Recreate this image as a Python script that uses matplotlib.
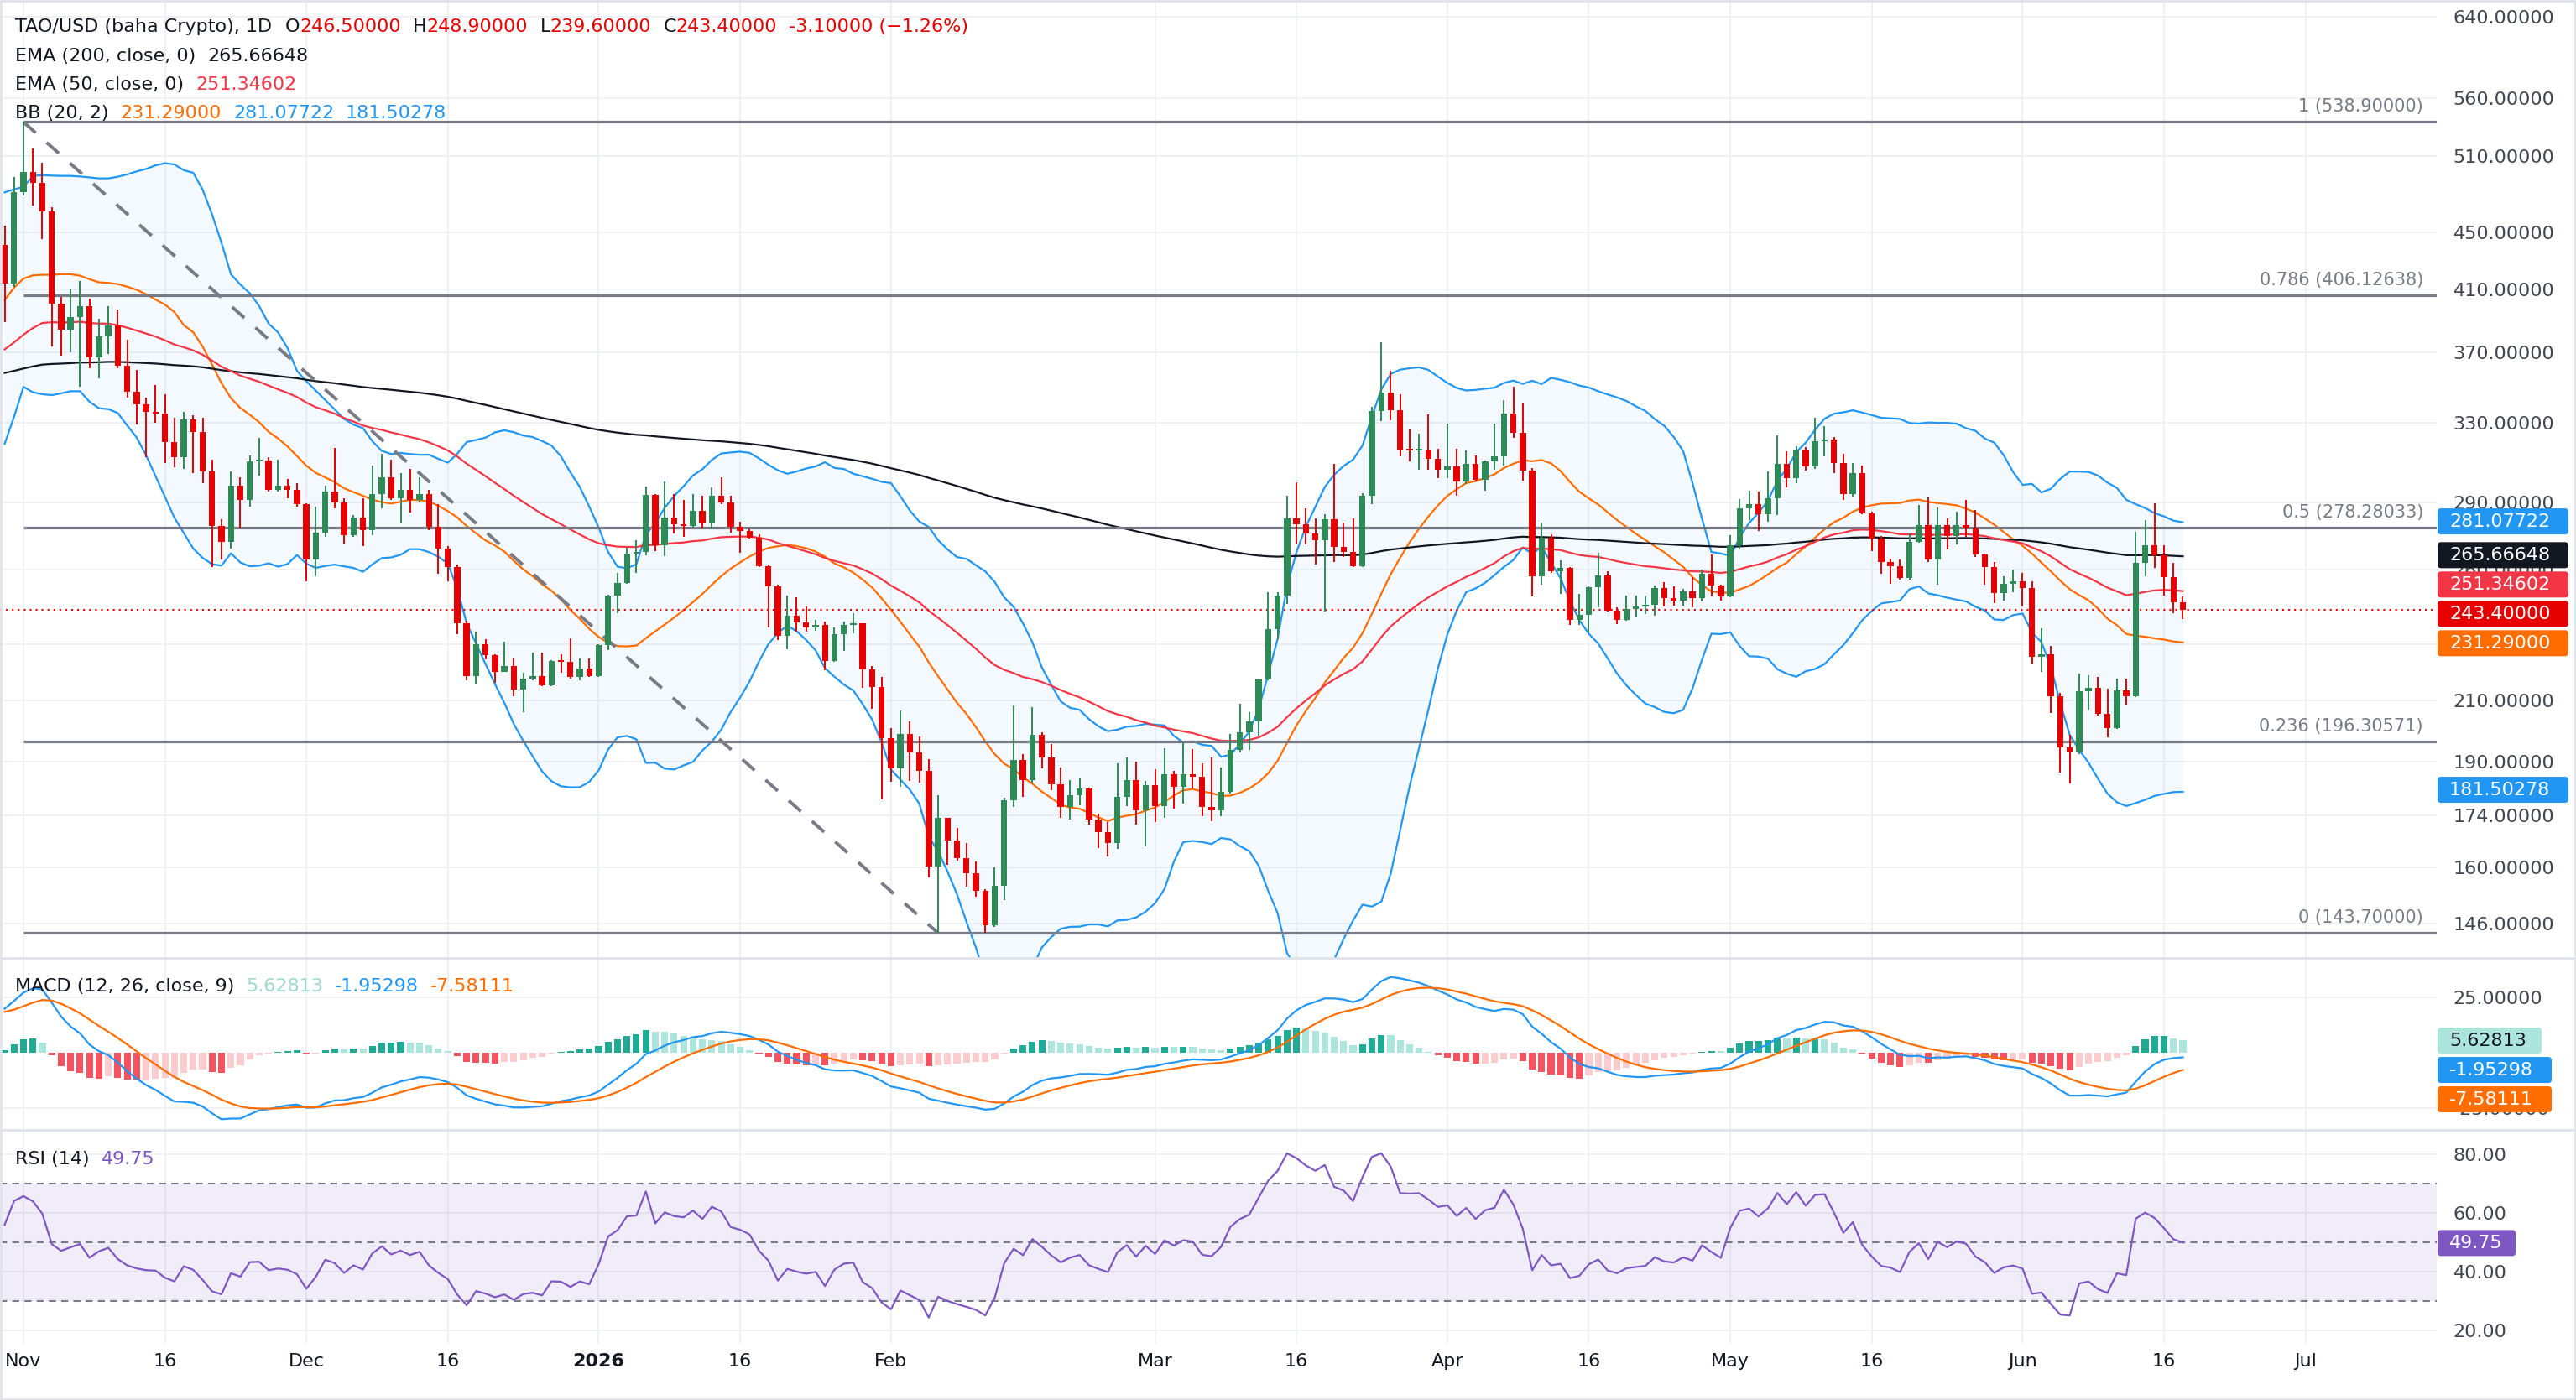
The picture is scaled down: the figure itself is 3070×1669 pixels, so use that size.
import numpy as np
import matplotlib.pyplot as plt
from matplotlib.patches import FancyBboxPatch
from matplotlib.lines import Line2D
from matplotlib.ticker import NullLocator

plt.rcParams['font.family'] = ['DejaVu Sans']

# daily candles, 30 Oct 2025 -> 18 Jun 2026 (open = previous close)
first_open = 441.0
closes = [414, 481, 497, 488, 466, 401, 384, 392, 399, 367, 380, 387, 362, 347, 340, 336, 335, 320, 312, 332,
          325, 305, 279, 272, 298, 291, 310, 310.5, 296, 298, 296, 289, 264, 276, 295, 290, 275, 283, 277, 294,
          302, 292, 296, 291, 294, 278.5, 269, 261, 238, 218.5, 230, 226, 220, 222, 213.7, 217.7, 218.5, 215.2, 223.9, 223.5,
          218, 221.1, 218.4, 229.8, 249.2, 254.4, 266.7, 267.5, 293.4, 270.2, 282.8, 279.9, 279, 286, 280.2, 292.9, 289.7, 278.8, 276.9, 273.6,
          261.3, 253, 233.2, 241.2, 238.4, 236.4, 237.5, 223.9, 233.8, 237.5, 238.2, 220.7, 214.5, 197.5, 188, 198.8, 193, 187.1, 160.2, 173.3,
          167.1, 162.4, 158.4, 154, 145.5, 155.3, 178.5, 190.5, 184.4, 198.4, 191.4, 183.2, 176.5, 180, 181.9, 172.8, 169.4, 166.5, 179.3, 184.4,
          175.5, 182.9, 176.7, 186.2, 182.5, 186.2, 185.3, 176.4, 175.5, 180.8, 193.8, 199.4, 202.8, 217.3, 235.7, 249.2, 282.4, 279.6, 275.5, 272.6,
          282, 269.6, 267.4, 261.2, 293.2, 336.6, 346.8, 337.1, 315.8, 315.5, 316, 311.2, 305.6, 307.6, 299.9, 308.7, 300.6, 310, 312.7, 335,
          324.7, 305.2, 257.2, 273.6, 259, 260.6, 239.3, 241.5, 252.6, 257.4, 243, 239.3, 243.6, 244.7, 245.5, 252.2, 248.2, 247.2, 250.7, 248,
          258.2, 253.3, 248.8, 270.5, 287, 289.2, 284.2, 291.9, 308.8, 301.8, 316.1, 307.3, 320.1, 321, 309.1, 294, 304.3, 284.8, 273.3, 263,
          261.2, 256.3, 272, 279.5, 264.2, 279.5, 274.5, 279.5, 277.7, 266.2, 260.8, 250, 253.9, 255.1, 252.3, 225.5, 226.2, 211.3, 194.6, 193.2,
          213.1, 214.4, 205.3, 200.7, 213.3, 211.5, 262.6, 270.4, 265.8, 256.8, 246.5, 243.4]
highs = [455, 493, 538.9, 516, 504, 469, 405, 411, 416, 404, 391, 399, 397, 378, 360, 344, 351, 346, 333, 336,
         334, 333, 311, 282, 305, 302, 313, 322, 312, 311, 301, 299, 289.5, 288, 298, 317, 292, 284, 292, 308,
         314, 311, 304, 306, 302, 296, 289, 270, 262, 239, 235, 232, 226.5, 231, 225, 219.5, 227, 227, 224.2, 226.4,
         232.3, 224.7, 224.9, 230, 249.4, 258.3, 269.3, 272.5, 297.6, 294, 300, 293.7, 291, 293.7, 293, 297.3, 302, 292.9, 280.9, 277.5,
         275.1, 261.5, 253.5, 249.2, 248.4, 244.7, 239.5, 238.6, 236.4, 238.9, 242, 238.2, 222.2, 218, 200.8, 206.4, 203, 198, 190.8, 180,
         173.5, 170.6, 166.5, 161.5, 154.3, 159.9, 179.2, 208.2, 192.3, 207.8, 199.3, 195.6, 188.2, 184.4, 184.8, 182.1, 174.6, 172.1, 189.6, 191.4,
         190.1, 184.2, 187.6, 194.3, 187.3, 195.9, 194, 189.6, 191.4, 188.2, 198.8, 208.9, 206.1, 217.7, 250.5, 250.3, 292.9, 299.6, 287.1, 282.4,
         284.3, 308.7, 280.5, 282.4, 294.3, 338.9, 376.6, 359.3, 346, 326.5, 324.4, 334.6, 316.4, 329.7, 316.4, 315.5, 313, 310.2, 329.7, 342.6,
         350.2, 340.9, 306.6, 280.5, 275.2, 263.7, 261, 249.9, 253, 267.1, 259, 244.2, 249, 249.2, 249.2, 253.1, 254.7, 252.7, 251.8, 256.7,
         259.7, 266.2, 253.6, 274.8, 291.6, 295.6, 294.9, 304.8, 323.6, 315.1, 317.7, 317.3, 332.6, 328.3, 322.7, 314, 309.2, 307.9, 285.4, 274.5,
         264.6, 264, 275.7, 288.7, 292.7, 287.6, 282.3, 285.4, 291.2, 286.3, 266.8, 263.2, 256.9, 259.7, 258.4, 254.8, 236.2, 229.5, 212.6, 198.4,
         219.3, 218.7, 218, 214, 217.7, 217.7, 276.2, 281.6, 289.5, 270.4, 262.6, 248.9]
lows = [389, 412, 478, 470, 445, 374, 368, 370, 350, 361, 355, 369, 361, 344, 329, 312, 330, 309, 307, 306,
        304, 299, 261, 264, 269, 278, 288, 303, 295, 295, 292, 288, 255, 257, 274, 287, 271, 274, 270, 275,
        287, 291, 280, 285, 290, 277, 258, 255, 234, 217, 215.5, 224.5, 216, 220, 211.5, 206, 217, 215, 215, 219.7,
        217.6, 217, 218, 218, 228, 242, 254, 258.3, 265.8, 267.8, 265.5, 275.7, 274, 278.4, 278, 278, 289, 275.9, 267.2, 273.2,
        261, 236.4, 231.6, 228.2, 234.9, 234.9, 235.1, 220.4, 223.6, 227.5, 234.1, 214.4, 207.2, 178.7, 184, 182.5, 184.2, 183.6, 157.3, 143.7,
        160.6, 161.7, 155.1, 152.4, 143.8, 145.2, 151.6, 176.5, 179.4, 183.6, 188, 181.3, 173.5, 173, 177.1, 171.5, 165.1, 162.8, 164.9, 176.7,
        171.5, 165.6, 172.3, 173.5, 176.1, 177.4, 182, 173.8, 172.5, 173.8, 180.3, 193, 193.8, 198.2, 217, 231.9, 245.8, 271.1, 270.8, 262,
        242.7, 262.9, 265.2, 260.9, 261, 289.2, 330.8, 331.3, 312.7, 309.8, 305.6, 305.6, 301.5, 301.7, 292.9, 298.6, 300.3, 295.4, 305.6, 308,
        321.9, 300.3, 248.8, 253.6, 258.5, 249.9, 237.6, 237.3, 234.5, 244.4, 242.8, 237.8, 239, 240.3, 241.7, 240.9, 244.7, 244.9, 244.9, 244.4,
        246.6, 248.8, 247.1, 248.5, 268.7, 281.7, 276.7, 281.1, 284, 297, 299, 305.2, 306.3, 312.7, 304.3, 290.9, 292.5, 284.2, 267.8, 258,
        254, 255.5, 255.5, 271.5, 263, 253.4, 268.7, 270.8, 274, 265.4, 253.7, 246.2, 247.2, 250.3, 244.6, 222.7, 219.8, 205.7, 186.6, 183.4,
        192.3, 206.7, 204.9, 197.7, 200.3, 208.5, 211, 257.1, 260.5, 249.2, 241.9, 239.6]

# Bollinger band for the first 19 days (window reaches before the chart)
bb_mid_head = [403.1, 411.4, 417.5, 419.7, 420.1, 420.1, 420.5, 420.5, 419.5, 417.1, 415.0, 414.6, 413.8, 412.0, 410.0, 407.0, 403.5, 400.2, 395.4]
bb_up_head = [480.5, 482.9, 484.8, 493.6, 494.1, 493.8, 493.6, 493.6, 493.1, 492.4, 491.6, 491.6, 492.9, 494.8, 497.2, 499.2, 502.1, 503.9, 502.9]
bb_lo_head = [318.9, 333.3, 350.0, 346.9, 345.8, 345.3, 346.3, 347.5, 347.5, 341.6, 338.0, 337.5, 335.4, 328.6, 322.3, 313.1, 302.7, 292.6, 282.8]

# indicator state on the first visible day
ema200_start = 358.0
ema50_start = 372.0
ema12_start = 418.0
ema26_start = 398.0
signal_start = 18.6
rsi_gain_start = 12.7
rsi_loss_start = 10.0

fib_ratios = ['1', '0.786', '0.5', '0.236', '0']
fib_levels = [538.9, 406.12638, 278.28033, 196.30571, 143.7]
swing_days = [2, 99]
swing_prices = [538.9, 143.7]

tick_days = [2, 17, 32, 47, 63, 78, 94, 122, 137, 153, 168, 183, 198, 214, 229, 244]
tick_labels = ['Nov', '16', 'Dec', '16', '2026', '16', 'Feb', 'Mar', '16', 'Apr', '16', 'May', '16', 'Jun', '16', 'Jul']
price_ticks = [146, 160, 174, 190, 210, 230, 260, 290, 330, 370, 410, 450, 510, 560, 640]
macd_ticks = [-25, 25]
rsi_ticks = [20, 40, 60, 80]

last_ohlc = ['246.50000', '248.90000', '239.60000', '243.40000']
last_change = '-3.10000 (\u22121.26%)'
ema200_last = 265.66648
ema50_last = 251.34602
bb_last = [231.29000, 281.07722, 181.50278]
macd_last = [5.62813, -1.95298, -7.58111]
rsi_last = 49.75

# ---- colours ----
DARK = '#131722'
UP = '#2E8B57'
DOWN = '#E60000'
BLUE = '#2196F3'
ORANGE = '#FF6D00'
PINK = '#F23645'
GREY = '#787B86'
PURPLE = '#7E57C2'
GRID = '#EEF0F4'

# ---- indicators ----
c = np.array(closes, float)
h = np.array(highs, float)
l = np.array(lows, float)
o = np.concatenate([[first_open], c[:-1]])
h = np.maximum(h, np.maximum(o, c))
l = np.minimum(l, np.minimum(o, c))
n = len(c)
x = np.arange(n)


def ema(values, span, start):
    a = 2.0 / (span + 1)
    out = np.empty(len(values))
    out[0] = start
    for k in range(1, len(values)):
        out[k] = out[k - 1] + a * (values[k] - out[k - 1])
    return out


ema200 = ema(c, 200, ema200_start)
ema50 = ema(c, 50, ema50_start)

k0 = len(bb_mid_head)
mid = np.empty(n)
up = np.empty(n)
lo = np.empty(n)
mid[:k0], up[:k0], lo[:k0] = bb_mid_head, bb_up_head, bb_lo_head
for k in range(k0, n):
    w = c[k - 19:k + 1]
    mid[k] = w.mean()
    up[k] = w.mean() + 2 * w.std()
    lo[k] = w.mean() - 2 * w.std()

macd = ema(c, 12, ema12_start) - ema(c, 26, ema26_start)
signal = ema(macd, 9, signal_start)
hist = macd - signal
prev = np.concatenate([[hist[0]], hist[:-1]])
hist_col = np.where(hist >= 0,
                    np.where(hist >= prev, '#22AB94', '#ACE5DC'),
                    np.where(hist < prev, '#F7525F', '#FCCBCD'))

rsi = np.empty(n)
g, ls_ = rsi_gain_start, rsi_loss_start
rsi[0] = 100 - 100 / (1 + g / ls_)
for k in range(1, n):
    d = c[k] - c[k - 1]
    g = (g * 13 + max(d, 0)) / 14
    ls_ = (ls_ * 13 + max(-d, 0)) / 14
    rsi[k] = 100 - 100 / (1 + g / ls_)

# ---- figure ----
W, H = 3070, 1669
fig = plt.figure(figsize=(W / 100, H / 100), dpi=100)
XR = 2904


def px_axes(y0, y1):
    return fig.add_axes([0, 1 - y1 / H, XR / W, (y1 - y0) / H])


ax = px_axes(2, 1142)
ax2 = px_axes(1142, 1347)
ax3 = px_axes(1347, 1602)
xlim = (-0.49, 257.92)

for a in (ax, ax2, ax3):
    a.set_xlim(*xlim)
    for s in a.spines.values():
        s.set_visible(False)
    a.set_xticks(tick_days)
    a.grid(True, color=GRID, lw=1.3)
    a.set_axisbelow(True)
    a.yaxis.tick_right()
    a.tick_params(length=0, labelsize=16, labelcolor='#434651', pad=14)
    a.tick_params(axis='x', labelbottom=False)

# main price pane
ax.set_yscale('log')
ax.set_ylim(138.0, 655.6)
ax.yaxis.set_minor_locator(NullLocator())
ax.set_yticks(price_ticks)
ax.set_yticklabels([f'{v:.5f}' for v in price_ticks])

ax.fill_between(x, lo, up, color=BLUE, alpha=0.05, lw=0, zorder=1)
ax.plot(x, up, color=BLUE, lw=1.6, zorder=2)
ax.plot(x, lo, color=BLUE, lw=1.6, zorder=2)
ax.plot(x, mid, color=ORANGE, lw=1.6, zorder=2)
ax.plot(x, ema200, color=DARK, lw=1.6, zorder=2)
ax.plot(x, ema50, color=PINK, lw=1.6, zorder=2)

for lev in fib_levels:
    ax.hlines(lev, swing_days[0], xlim[1], color=GREY, lw=2.3, zorder=3)
ax.plot(swing_days, swing_prices, color=GREY, lw=2.8, ls=(0, (5, 4.5)), zorder=3)

col = np.where(c >= o, UP, DOWN)
ax.vlines(x, l, h, color=col, lw=1.4, zorder=4)
body_lo = np.minimum(o, c)
body_h = np.maximum(np.abs(c - o), c * 0.003)
ax.bar(x, body_h, bottom=body_lo, width=0.66, color=col, lw=0, zorder=5)
ax.axhline(c[-1], color=DOWN, lw=1.5, ls=(0, (1, 2.4)), zorder=3)

# MACD pane
ax2.set_ylim(-34.7, 42.95)
ax2.set_yticks(macd_ticks)
ax2.set_yticklabels([f'{v:.5f}' for v in macd_ticks])
ax2.bar(x, hist, width=0.72, color=hist_col, lw=0, zorder=2)
ax2.plot(x, macd, color=BLUE, lw=1.6, zorder=3)
ax2.plot(x, signal, color=ORANGE, lw=1.6, zorder=3)

# RSI pane
ax3.set_ylim(15.43, 88.3)
ax3.set_yticks(rsi_ticks)
ax3.set_yticklabels([f'{v:.2f}' for v in rsi_ticks])
ax3.axhspan(30, 70, color=PURPLE, alpha=0.1, lw=0, zorder=1)
for lev in (70, 50, 30):
    ax3.axhline(lev, color=GREY, lw=1.5, ls=(0, (4, 3)), zorder=2)
ax3.plot(x, rsi, color=PURPLE, lw=1.6, zorder=3)
ax3.tick_params(axis='x', labelbottom=True, labelsize=16, labelcolor=DARK, pad=8)
ax3.set_xticklabels(tick_labels)
for t in ax3.get_xticklabels():
    if t.get_text() == '2026':
        t.set_fontweight('bold')

# ---- overlay in pixel coordinates ----
ov = fig.add_axes([0, 0, 1, 1], zorder=10)
ov.set_xlim(0, W)
ov.set_ylim(H, 0)
ov.axis('off')
renderer = fig.canvas.get_renderer()


def to_px(axis, val):
    return H - axis.transData.transform((0, val))[1]


for yy in (1142, 1347):
    ov.add_line(Line2D([0, W], [yy, yy], color='#E0E3EB', lw=2))
ov.add_patch(FancyBboxPatch((1, 1), W - 2, H - 2, boxstyle='square,pad=0', fill=False, ec='#E0E3EB', lw=2))

for r, lev in zip(fib_ratios, fib_levels):
    ov.text(2888, to_px(ax, lev) - 18, f'{r} ({lev:.5f})', color=GREY, fontsize=15, ha='right', va='center')


def text_runs(x0, y0, runs, size=16):
    xx = x0
    for s, colr, gap in runs:
        xx += gap
        t = ov.text(xx, y0, s, color=colr, fontsize=size, ha='left', va='center')
        xx += t.get_window_extent(renderer).width


text_runs(18, 32, [('TAO/USD (baha Crypto), 1D', DARK, 0),
                   ('O', DARK, 16), (last_ohlc[0], DOWN, 0),
                   ('H', DARK, 14), (last_ohlc[1], DOWN, 0),
                   ('L', DARK, 14), (last_ohlc[2], DOWN, 0),
                   ('C', DARK, 14), (last_ohlc[3], DOWN, 0),
                   (last_change, DOWN, 14)])
text_runs(18, 67, [('EMA (200, close, 0)', DARK, 0), (f'{ema200_last:.5f}', DARK, 14)])
text_runs(18, 101, [('EMA (50, close, 0)', DARK, 0), (f'{ema50_last:.5f}', PINK, 14)])
text_runs(18, 135, [('BB (20, 2)', DARK, 0), (f'{bb_last[0]:.5f}', ORANGE, 14),
                    (f'{bb_last[1]:.5f}', BLUE, 14), (f'{bb_last[2]:.5f}', BLUE, 14)])
text_runs(18, 1176, [('MACD (12, 26, close, 9)', DARK, 0), (f'{macd_last[0]:.5f}', '#9FD8CF', 14),
                     (f'{macd_last[1]:.5f}', BLUE, 14), (f'{macd_last[2]:.5f}', ORANGE, 14)])
text_runs(18, 1382, [('RSI (14)', DARK, 0), (f'{rsi_last:.2f}', PURPLE, 14)])


def spread(targets, gap, centred=True):
    # keep value labels from overlapping: overlapping ones form a stack
    order = np.argsort(targets)
    groups = [[targets[i]] for i in order]
    changed = True
    while changed:
        changed = False
        pos = []
        for gr in groups:
            if centred:
                m = np.mean(gr)
                pos.append([m + (k - (len(gr) - 1) / 2) * gap for k in range(len(gr))])
            else:
                pos.append([gr[0] + k * gap for k in range(len(gr))])
        for k in range(len(groups) - 1):
            if pos[k][-1] + gap > pos[k + 1][0]:
                groups[k] = groups[k] + groups[k + 1]
                del groups[k + 1]
                changed = True
                break
    flat = [p for gr in pos for p in gr]
    out = np.empty(len(targets))
    out[order] = flat
    return out


def price_boxes(vals, texts, bgs, fgs, axis, widths, centred=True):
    ys = spread([to_px(axis, v) for v in vals], 35, centred)
    for yy, s, bg, fg, wd in zip(ys, texts, bgs, fgs, widths):
        ov.add_patch(FancyBboxPatch((2905, yy - 15.5), wd, 31,
                                    boxstyle='round,pad=0,rounding_size=4', fc=bg, ec='none'))
        ov.text(2919, yy + 0.5, s, color=fg, fontsize=16, ha='left', va='center')


main_vals = [bb_last[1], ema200_last, ema50_last, c[-1], bb_last[0]]
price_boxes(main_vals, [f'{v:.5f}' for v in main_vals],
            [BLUE, DARK, PINK, DOWN, ORANGE], ['white'] * 5, ax, [156] * 5)
price_boxes([bb_last[2]], [f'{bb_last[2]:.5f}'], [BLUE], ['white'], ax, [156])
price_boxes(macd_last, [f'{v:.5f}' for v in macd_last], ['#ACE5DC', BLUE, ORANGE],
            [DARK, 'white', 'white'], ax2, [124, 136, 136], centred=False)
price_boxes([rsi_last], [f'{rsi_last:.2f}'], [PURPLE], ['white'], ax3, [93])

fig.savefig('out.png', dpi=100, facecolor='white')
